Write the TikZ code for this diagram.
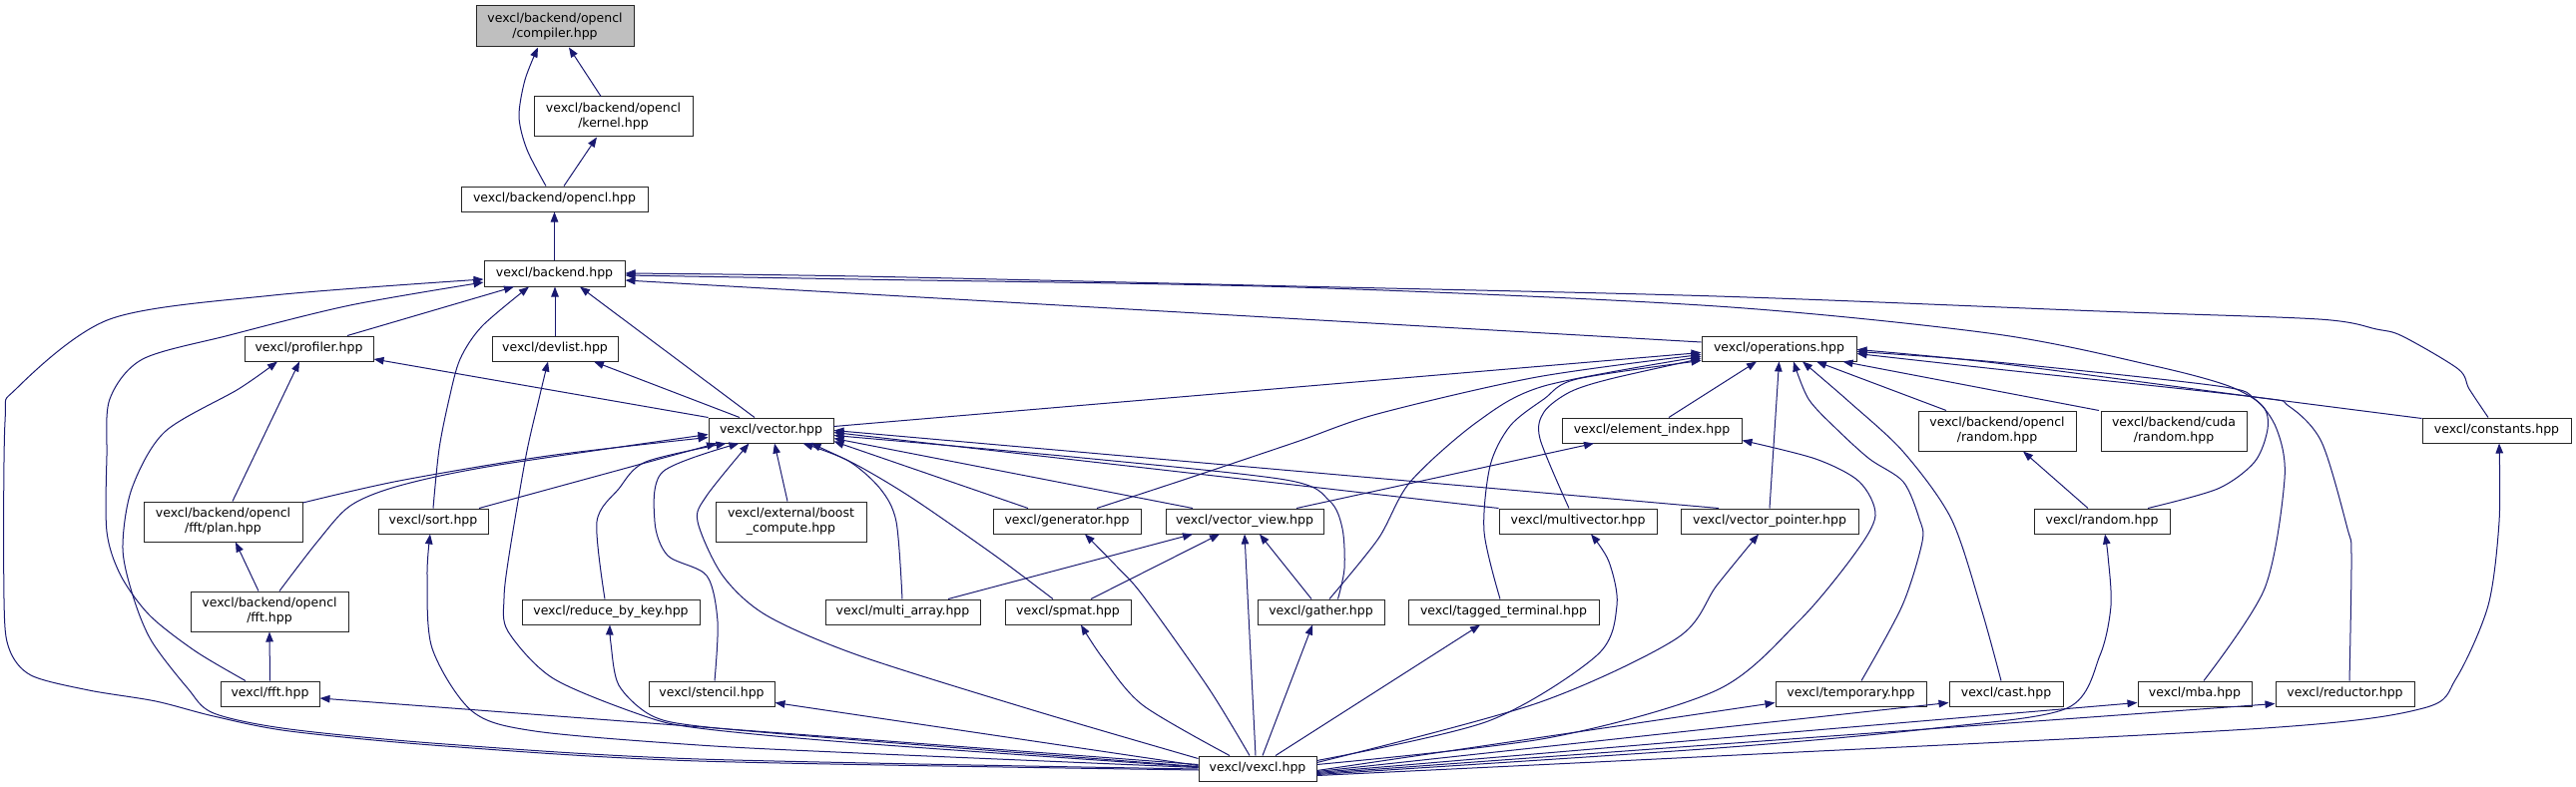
\documentclass[tikz,border=0pt]{standalone}
\usepackage{fontspec}
\setmainfont{DejaVu Sans}
\usetikzlibrary{arrows.meta}
\definecolor{edgeblue}{RGB}{25,25,112}
\tikzset{
  box/.style={draw=black!85, line width=1pt, fill=white, inner sep=0pt, align=center,
    font=\fontsize{12.5}{15}\selectfont},
  sz/.style 2 args={minimum width=#1pt, minimum height=#2pt},
  edge/.style={draw=edgeblue, line width=1pt, -{Triangle[length=10pt,width=7.5pt]}},
}
\begin{document}
\begin{tikzpicture}[x=1pt,y=-1pt]
\useasboundingbox (0,0) rectangle (2581,789);
% nodes
\node[box,sz={158}{41},fill=black!25] (compiler) at (556,26.5) {vexcl/backend/opencl\\/compiler.hpp};
\node[box,sz={159}{40}] (kernel) at (614.5,117) {vexcl/backend/opencl\\/kernel.hpp};
\node[box,sz={187}{25}] (opencl) at (555.5,199.5) {vexcl/backend/opencl.hpp};
\node[box,sz={141}{26}] (backend) at (555.5,274) {vexcl/backend.hpp};
\node[box,sz={129}{25}] (profiler) at (309.5,349.5) {vexcl/profiler.hpp};
\node[box,sz={126}{25}] (devlist) at (556,349.5) {vexcl/devlist.hpp};
\node[box,sz={155}{25}] (ops) at (1782.5,349.5) {vexcl/operations.hpp};
\node[box,sz={125}{25}] (vector) at (772.5,431.5) {vexcl/vector.hpp};
\node[box,sz={180}{25}] (eidx) at (1655,431.5) {vexcl/element\_index.hpp};
\node[box,sz={158}{40}] (oran) at (2001,432) {vexcl/backend/opencl\\/random.hpp};
\node[box,sz={146}{40}] (cran) at (2178,432) {vexcl/backend/cuda\\/random.hpp};
\node[box,sz={149}{25}] (consts) at (2501.5,431.5) {vexcl/constants.hpp};
\node[box,sz={159}{40}] (plan) at (223.5,523) {vexcl/backend/opencl\\/fft/plan.hpp};
\node[box,sz={110}{25}] (sort) at (434,522.5) {vexcl/sort.hpp};
\node[box,sz={151}{40}] (boost) at (792.5,523) {vexcl/external/boost\\\_compute.hpp};
\node[box,sz={148}{25}] (gen) at (1069,522.5) {vexcl/generator.hpp};
\node[box,sz={158}{25}] (vview) at (1247,522.5) {vexcl/vector\_view.hpp};
\node[box,sz={158}{25}] (mvec) at (1581,522.5) {vexcl/multivector.hpp};
\node[box,sz={178}{25}] (vptr) at (1773,522.5) {vexcl/vector\_pointer.hpp};
\node[box,sz={136}{25}] (random) at (2106,522.5) {vexcl/random.hpp};
\node[box,sz={158}{40}] (offt) at (270,613) {vexcl/backend/opencl\\/fft.hpp};
\node[box,sz={178}{25}] (rbk) at (612,613.5) {vexcl/reduce\_by\_key.hpp};
\node[box,sz={155}{25}] (marr) at (904.5,613.5) {vexcl/multi\_array.hpp};
\node[box,sz={126}{25}] (spmat) at (1070,613.5) {vexcl/spmat.hpp};
\node[box,sz={127}{25}] (gather) at (1323.5,613.5) {vexcl/gather.hpp};
\node[box,sz={191}{25}] (tagged) at (1506.5,613.5) {vexcl/tagged\_terminal.hpp};
\node[box,sz={99}{25}] (vfft) at (270.5,695.5) {vexcl/fft.hpp};
\node[box,sz={126}{25}] (stencil) at (713,695.5) {vexcl/stencil.hpp};
\node[box,sz={151}{25}] (temp) at (1854.5,695.5) {vexcl/temporary.hpp};
\node[box,sz={114}{25}] (cast) at (2010,695.5) {vexcl/cast.hpp};
\node[box,sz={114}{25}] (mba) at (2199,695.5) {vexcl/mba.hpp};
\node[box,sz={139}{25}] (red) at (2349.5,695.5) {vexcl/reductor.hpp};
\node[box,sz={118}{25}] (vexcl) at (1260,770.5) {vexcl/vexcl.hpp};
% edges: top part
\draw[edge] ([xshift=-12.5pt]kernel.north) -- ([xshift=14pt]compiler.south);
\draw[edge] plot[smooth] coordinates {([xshift=-8.5pt]opencl.north) (528,150) (520,117) (526,80) ([xshift=-17pt]compiler.south)};
\draw[edge] ([xshift=9.5pt]opencl.north) -- ([xshift=-16.5pt]kernel.south);
\draw[edge] (backend.north) -- (opencl.south);
\draw[edge] ([xshift=38.5pt]profiler.north) -- ([xshift=-40.5pt]backend.south);
\draw[edge] (devlist.north) -- ([xshift=0.5pt]backend.south);
\draw[edge] plot[smooth] coordinates {(sort.north) (440,450) (450,400) (461,360) (483,327) ([xshift=-25.5pt]backend.south)};
\draw[edge] ([xshift=-16.5pt]vector.north) -- ([xshift=25.5pt]backend.south);
\draw[edge] plot[smooth] coordinates {([xshift=-24.5pt]vfft.north) (196,653) (150,617) (121,577) (107,533) (107,457) (110,400) (143,360) (230,336) (351,306) ([yshift=-9pt]backend.west)};
\draw[edge] plot[smooth] coordinates {([yshift=-1.5pt]vexcl.west) (700,763) (446,748) (290,733) (214,718) (156,703) (89,692) (31,677) (9,650) (4,600) (5,423) (16,390) (110,320) (274,296) ([yshift=-6pt]backend.west)};
\draw[edge] plot[smooth] coordinates {([yshift=-0.5pt]vexcl.west) (700,761) (446,746) (290,731) (214,715) (188,690) (152,643) (134,600) (123,550) (132,490) (165,433) (239,390) ([xshift=-31.5pt]profiler.south)};
\draw[edge] ([xshift=9.5pt]plan.north) -- ([xshift=-9.5pt]profiler.south);
\draw[edge] ([xshift=-11pt]offt.north) -- ([xshift=12.5pt]plan.south);
\draw[edge] (vfft.north) -- (offt.south);
\draw[edge] plot[smooth] coordinates {([yshift=19pt]plan.east) (400,482) (549,457) ([yshift=-7pt]vector.west)};
\draw[edge] plot[smooth] coordinates {([xshift=10pt]offt.north) (318,543) (351,507) (400,487) (494,467) ([yshift=-4pt]vector.west)};
\draw[edge] ([xshift=46pt]sort.north) -- ([xshift=-54.5pt]vector.south);
\draw[edge] plot[smooth] coordinates {([yshift=1pt]vexcl.west) (860,755) (700,747) (536,733) (473,713) (433,650) (428,577) ([xshift=-3pt]sort.south)};
\draw[edge] plot[smooth] coordinates {([yshift=1.5pt]vexcl.west) (860,745) (700,730) (643,717) (554,680) (509,633) (505,600) (510,557) (527,457) (540,400) ([xshift=-7pt]devlist.south)};
\draw[edge] ([xshift=-31.5pt]vector.north) -- ([xshift=39pt]devlist.south);
\draw[edge] (vector.north west) -- ([yshift=-10.5pt]profiler.east);
\draw[edge] plot[smooth] coordinates {([xshift=-6pt]rbk.north) (598,523) (620,490) (647,463) ([xshift=-45pt]vector.south)};
\draw[edge] plot[smooth] coordinates {([yshift=2pt]vexcl.west) (860,742) (700,728) (652,717) (620,687) (612,645) ([xshift=-1pt]rbk.south)};
\draw[edge] plot[smooth] coordinates {([xshift=3pt]stencil.north) (719,623) (708,577) (669,557) (656,523) (664,473) ([xshift=-32pt]vector.south)};
\draw[edge] ([yshift=3pt]vexcl.west) -- ([yshift=-9pt]stencil.east);
\draw[edge] plot[smooth] coordinates {([yshift=10pt]vexcl.west) (1035,712) (860,657) (768,617) (724,577) (699,523) (708,497) ([xshift=-22pt]vector.south)};
\draw[edge] ([xshift=-3.5pt]boost.north) -- ([xshift=3.5pt]vector.south);
\draw[edge] ([yshift=4pt]vexcl.west) -- ([yshift=-4.5pt]vfft.east);
\draw[edge] plot[smooth] coordinates {([xshift=-0.5pt]marr.north) (898,523) (882,490) (850,462) ([xshift=32pt]vector.south)};
\draw[edge] plot[smooth] coordinates {([xshift=-15pt]spmat.north) (997,557) (915,500) (860,467) ([xshift=40pt]vector.south)};
\draw[edge] ([xshift=45.5pt]marr.north) -- ([xshift=-52pt]vview.south);
\draw[edge] ([xshift=23pt]spmat.north) -- ([xshift=-25pt]vview.south);
\draw[edge] ([xshift=-2pt]vexcl.north) -- (vview.south);
\draw[edge] ([xshift=-9.5pt]gather.north) -- ([xshift=15pt]vview.south);
\draw[edge] plot[smooth] coordinates {([xshift=-8pt]vexcl.north) (1211,690) (1145,597) (1118,567) ([xshift=18pt]gen.south)};
\draw[edge] plot[smooth] coordinates {([xshift=-28pt]vexcl.north) (1145,707) (1105,660) ([xshift=13pt]spmat.south)};
\draw[edge] ([xshift=5pt]vexcl.north) -- ([xshift=-8.5pt]gather.south);
\draw[edge] ([xshift=18pt]vexcl.north) -- ([xshift=-23.5pt]tagged.south);
\draw[edge] plot[smooth] coordinates {([yshift=8pt]vexcl.east) (1491,723) (1600,657) (1620,607) (1612,563) ([xshift=13pt]mvec.south)};
\draw[edge] ([xshift=-39pt]gen.north) -- ([yshift=-11pt]vector.east);
\draw[edge] ([xshift=-52pt]vview.north) -- ([yshift=-8pt]vector.east);
\draw[edge] (mvec.north west) -- ([yshift=-2pt]vector.east);
\draw[edge] ([xshift=-51pt]vptr.north) -- (vector.east);
\draw[edge] plot[smooth] coordinates {([xshift=17pt]gather.north) (1347,570) (1345,530) (1332,502) (1288,481) (1074,458) ([yshift=-5pt]vector.east)};
% edges into operations
\draw[edge] plot[smooth] coordinates {([xshift=8.5pt]gather.north) (1381,540) (1413,483) (1480,423) (1547,387) ([yshift=-8pt]ops.west)};
\draw[edge] plot[smooth] coordinates {([xshift=30pt]gen.north) (1189,480) (1299,443) (1380,415) (1540,378) ([yshift=-6pt]ops.west)};
\draw[edge] ([yshift=4pt]vector.east) -- ([yshift=-4pt]ops.west);
\draw[edge] plot[smooth] coordinates {([xshift=-9pt]mvec.north) (1543,440) (1547,413) (1573,393) (1613,380) ([yshift=-10pt]ops.west)};
\draw[edge] plot[smooth] coordinates {([xshift=-3.5pt]tagged.north) (1487,533) (1493,467) (1513,427) (1547,400) (1580,380) ([yshift=-12pt]ops.west)};
\draw[edge] ([xshift=52pt]vview.north) -- ([xshift=-58pt]eidx.south);
\draw[edge] ([xshift=17pt]eidx.north) -- ([xshift=-22.5pt]ops.south);
\draw[edge] (vptr.north) -- (ops.south);
\draw[edge] plot[smooth] coordinates {([yshift=4pt]vexcl.east) (1550,740) (1720,692) (1802,623) (1857,557) (1879,517) (1863,483) (1819,460) ([yshift=-10pt]eidx.east)};
\draw[edge] plot[smooth] coordinates {([yshift=6pt]vexcl.east) (1540,705) (1680,640) (1720,587) ([xshift=-11pt]vptr.south)};
\draw[edge] plot[smooth] coordinates {([xshift=10.5pt]temp.north) (1906,607) (1926,543) (1923,520) (1907,483) (1873,460) (1840,430) (1812,400) ([xshift=14.5pt]ops.south)};
\draw[edge] plot[smooth] coordinates {([xshift=-5pt]cast.north) (1985,610) (1955,520) (1907,453) (1853,403) ([xshift=23.5pt]ops.south)};
\draw[edge] ([xshift=-51pt]oran.north) -- ([xshift=37.5pt]ops.south);
\draw[edge] ([xshift=-75pt]cran.north) -- ([xshift=64pt]ops.south);
\draw[edge] ([xshift=-14pt]random.north) -- ([xshift=26pt]oran.south);
\draw[edge] plot[smooth] coordinates {([xshift=46pt]random.north) (2222,490) (2259,463) (2272,430) (2267,407) (2233,387) (2159,367) (2000,335) (1720,307) (1300,288) (860,280) ([yshift=-2pt]backend.east)};
\draw[edge] plot[smooth] coordinates {([xshift=-8.5pt]consts.north) (2474,390) (2463,370) (2407,337) (2381,330) (2323,320) (2104,312) (1720,297) (1299,287) (860,277) (backend.east)};
\draw[edge] ([yshift=6.5pt]ops.west) -- ([yshift=-7pt]backend.east);
\draw[edge] plot[smooth] coordinates {([xshift=9pt]mba.north) (2269,590) (2289,480) (2281,430) (2259,400) (2222,387) (2000,363) ([yshift=-3pt]ops.east)};
\draw[edge] plot[smooth] coordinates {([xshift=4.5pt]red.north) (2356,557) (2352,530) (2326,443) (2293,407) (2259,398) (2000,370) ([yshift=-5pt]ops.east)};
\draw[edge] plot[smooth] coordinates {([yshift=12pt]consts.west) (2259,398) (2000,364) ([yshift=-1pt]ops.east)};
% vexcl to the right
\draw[edge] ([yshift=-2pt]vexcl.east) -- ([yshift=-9pt]temp.west);
\draw[edge] ([yshift=-3pt]vexcl.east) -- ([yshift=-9pt]cast.west);
\draw[edge] ([yshift=-4pt]vexcl.east) -- ([yshift=-9pt]mba.west);
\draw[edge] ([yshift=-5pt]vexcl.east) -- ([yshift=-10pt]red.west);
\draw[edge] plot[smooth] coordinates {([yshift=-6pt]vexcl.east) (1720,750) (1939,730) (2071,710) (2104,657) (2115,607) (2112,557) ([xshift=3pt]random.south)};
\draw[edge] plot[smooth] coordinates {([yshift=-7pt]vexcl.east) (1720,758) (2269,730) (2428,710) (2461,680) (2493,607) (2504,523) ([xshift=2.5pt]consts.south)};
\end{tikzpicture}
\end{document}
